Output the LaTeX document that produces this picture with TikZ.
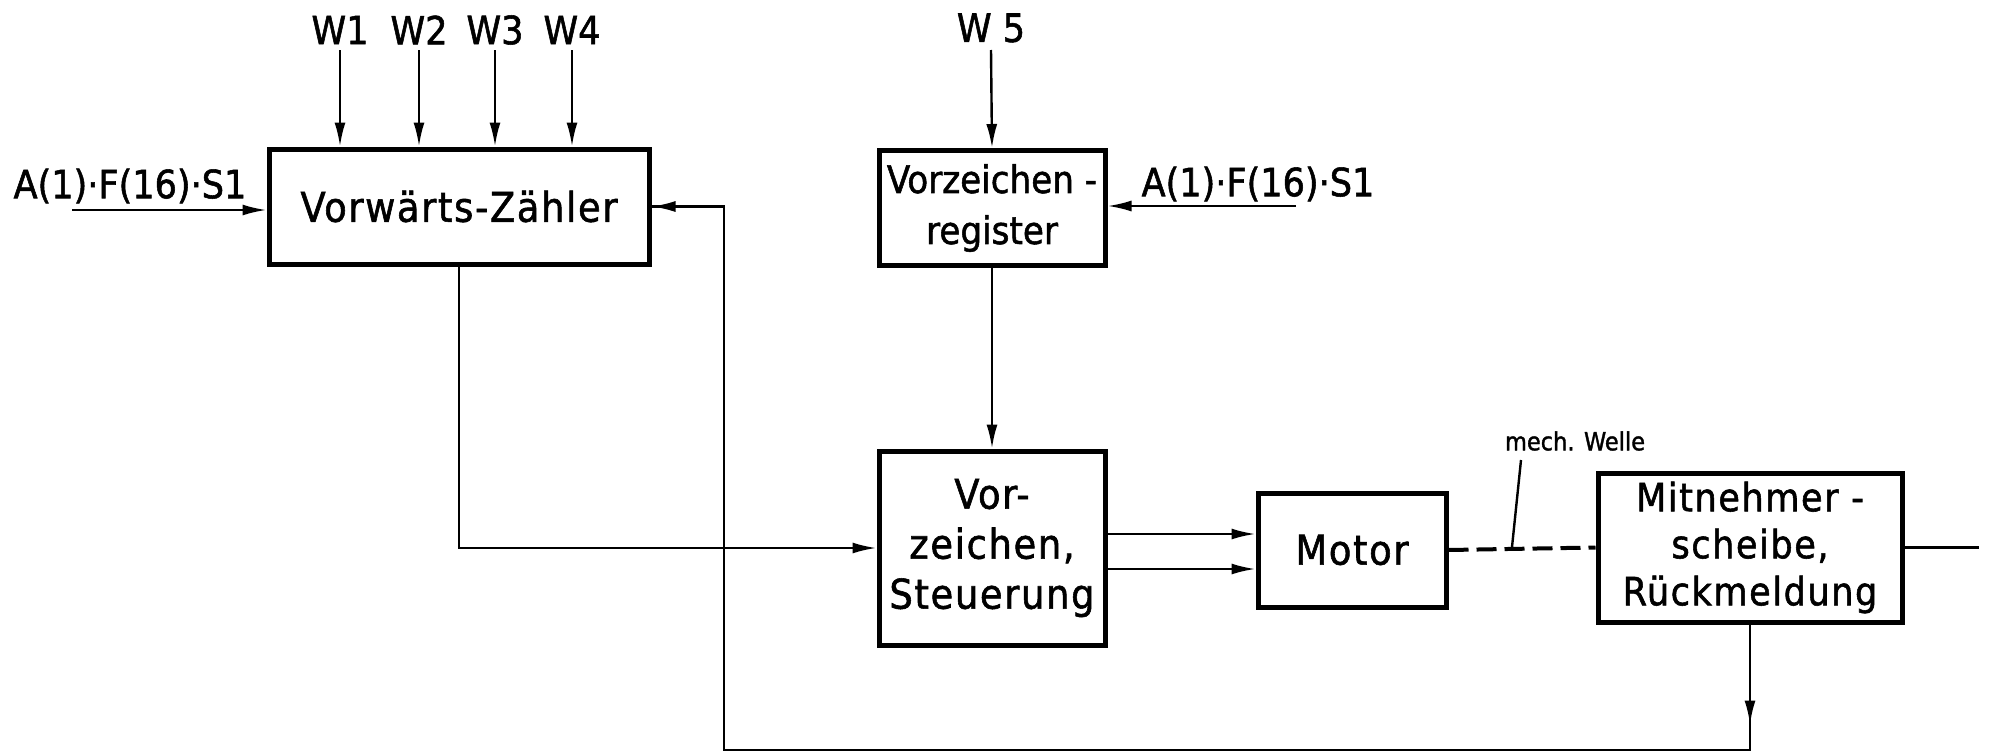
\documentclass[tikz,border=0pt]{standalone}
\usepackage{fontspec}
\setmainfont{DejaVu Sans Condensed}
\newfontfamily\dinfont{DejaVu Sans Condensed}[FakeBold=1.4]
\newfontfamily\dinwide{DejaVu Sans Condensed}[FakeBold=1.4,LetterSpace=4]
\usetikzlibrary{arrows.meta}
\begin{document}
\begin{tikzpicture}[x=0.5pt,y=-0.5pt,
  box/.style={draw,line width=2.5pt,rectangle,inner sep=0pt,align=center,
    font=\dinwide\fontsize{20.5}{25}\selectfont},
  lbl/.style={font=\dinfont\fontsize{19.5}{25}\selectfont,inner sep=0pt},
  small/.style={font=\dinfont\fontsize{12.5}{15}\selectfont,inner sep=0pt},
  conn/.style={line width=1.2pt},
  arr/.style={conn,-{Latex[length=12pt,width=5.5pt]}}]
\useasboundingbox (0,0) rectangle (1992,755);
% boxes
\node[box,minimum width=190pt,minimum height=57.5pt] (vz) at (459,206.5) {Vorwärts-Zähler};
\node[box,minimum width=113pt,minimum height=57.5pt,font=\dinfont\fontsize{19}{25.5}\selectfont] (vr) at (992,208) {Vorzeichen -\\register};
\node[box,minimum width=113pt,minimum height=97pt] (st) at (992,548) {Vor-\\zeichen,\\Steuerung};
\node[box,minimum width=94pt,minimum height=57pt] (mo) at (1352,550) {Motor};
\node[box,minimum width=152pt,minimum height=74.5pt,font=\dinwide\fontsize{19.5}{23.5}\selectfont] (mi) at (1750,547.5) {Mitnehmer -\\scheibe,\\Rückmeldung};
% labels
\node[lbl] (w1) at (340,30) {W1};
\node[lbl] (w2) at (419,30) {W2};
\node[lbl] (w3) at (495,30) {W3};
\node[lbl] (w4) at (572,30) {W4};
\node[lbl] (w5) at (991,28) {W 5};
\node[lbl] (a1) at (130,186) {A(1)·F(16)·S1};
\node[lbl] (a2) at (1258,184) {A(1)·F(16)·S1};
\node[small] (mw) at (1575,441) {mech. Welle};
% coordinates
\coordinate (w1s) at (340,50);
\coordinate (w2s) at (419,50);
\coordinate (w3s) at (495,50);
\coordinate (w4s) at (572,50);
\coordinate (w5s) at (991,50);
\coordinate (a1s) at (72,210);
\coordinate (a2s) at (1296,206);
\coordinate (fbB) at (1750,750);
\coordinate (fbL) at (724,750);
\coordinate (mwa) at (1521,460);
\coordinate (mwb) at (1512,547);
\coordinate (outE) at (1979,549);
% connectors
\draw[arr] (w1s) -- (w1s |- vz.north);
\draw[arr] (w2s) -- (w2s |- vz.north);
\draw[arr] (w3s) -- (w3s |- vz.north);
\draw[arr] (w4s) -- (w4s |- vz.north);
\draw[arr] (a1s) -- (a1s -| vz.west);
\draw[arr] (w5s) -- (vr.north);
\draw[arr] (a2s) -- (a2s -| vr.east);
\draw[arr] (vr.south) -- (st.north);
\draw[arr] (vz.south) |- (st.west);
\draw[arr] (st.east |- 0,534) -- (mo.west |- 0,534);
\draw[arr] (st.east |- 0,569) -- (mo.west |- 0,569);
\draw[line width=2pt,dash pattern=on 10pt off 4pt] (mo.east) -- (mi.west);
\draw[conn] (mwa) -- (mwb);
\draw[conn] (mi.east) -- (mi.east -| outE);
\draw[conn] (mi.south) -- (fbB) -- (fbL) |- (vz.east);
\draw[arr] (vz.east -| fbL) -- (vz.east);
\draw[arr] (mi.south) -- ++(0,100);
\end{tikzpicture}
\end{document}
